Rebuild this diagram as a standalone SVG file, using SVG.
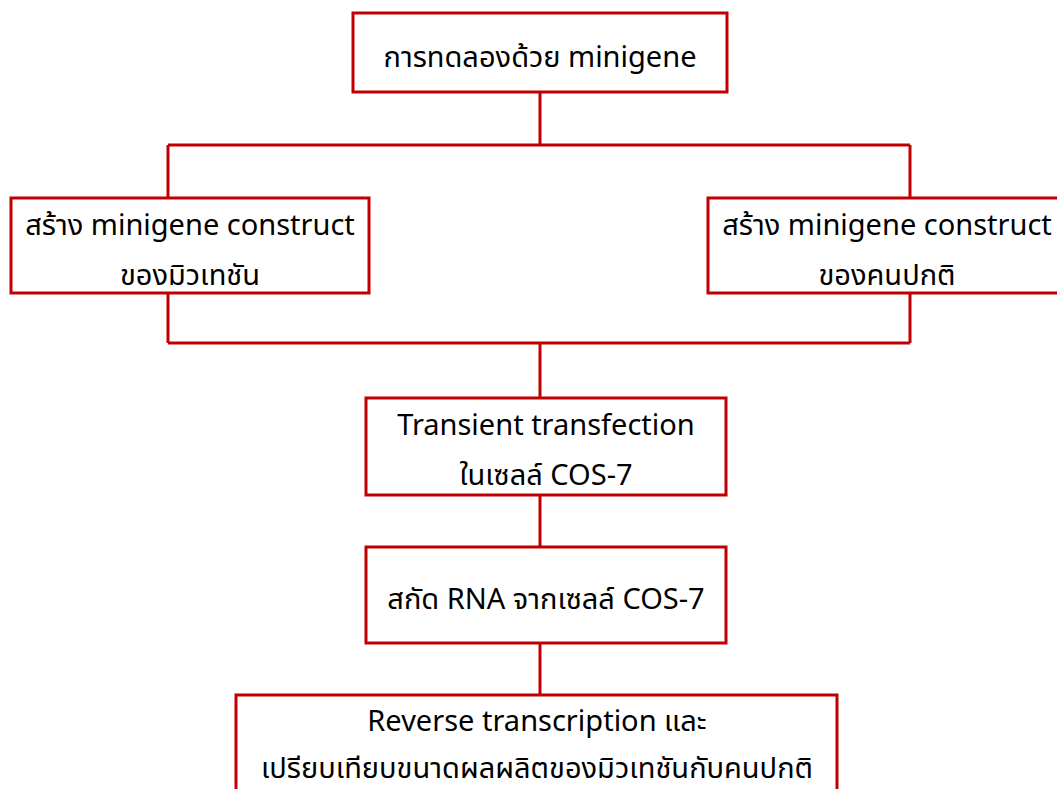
<svg xmlns="http://www.w3.org/2000/svg" width="1057" height="789" viewBox="0 0 1057 789">
  <style>
    .box { fill: #ffffff; stroke: #c00000; stroke-width: 3; }
    .link { fill: none; stroke: #c00000; stroke-width: 3; }
    .label { font-family: "Noto Sans Thai", "Noto Sans Thai UI", "Noto Sans", "DejaVu Sans", sans-serif; font-size: 29px; fill: #000000; text-anchor: middle; }
  </style>
  <rect width="1057" height="789" fill="#ffffff"/>

  <g id="connectors">
    <path class="link" d="M540 92 V145 M168 145 H910 M168 145 V198 M910 145 V198"/>
    <path class="link" d="M168 293 V343 M910 293 V343 M168 343 H910 M540 343 V398"/>
    <path class="link" d="M540 495 V547"/>
    <path class="link" d="M540 643 V695"/>
  </g>

  <g id="node-experiment">
    <rect class="box" x="353" y="13" width="374" height="79"/>
    <text class="label" x="540" y="67">การทดลองด้วย minigene</text>
  </g>

  <g id="node-mutant-construct">
    <rect class="box" x="11" y="198" width="358" height="95"/>
    <text class="label" x="190" y="235">สร้าง minigene construct</text>
    <text class="label" x="190" y="285">ของมิวเทชัน</text>
  </g>

  <g id="node-normal-construct">
    <rect class="box" x="708" y="198" width="358" height="95"/>
    <text class="label" x="887" y="235">สร้าง minigene construct</text>
    <text class="label" x="887" y="285">ของคนปกติ</text>
  </g>

  <g id="node-transfection">
    <rect class="box" x="366" y="398" width="360" height="97"/>
    <text class="label" x="546" y="435">Transient transfection</text>
    <text class="label" x="546" y="485">ในเซลล์ COS-7</text>
  </g>

  <g id="node-rna-extraction">
    <rect class="box" x="366" y="547" width="360" height="96"/>
    <text class="label" x="546" y="609">สกัด RNA จากเซลล์ COS-7</text>
  </g>

  <g id="node-reverse-transcription">
    <rect class="box" x="236" y="695" width="601" height="110"/>
    <text class="label" x="537" y="731">Reverse transcription และ</text>
    <text class="label" x="537" y="778">เปรียบเทียบขนาดผลผลิตของมิวเทชันกับคนปกติ</text>
  </g>
</svg>
